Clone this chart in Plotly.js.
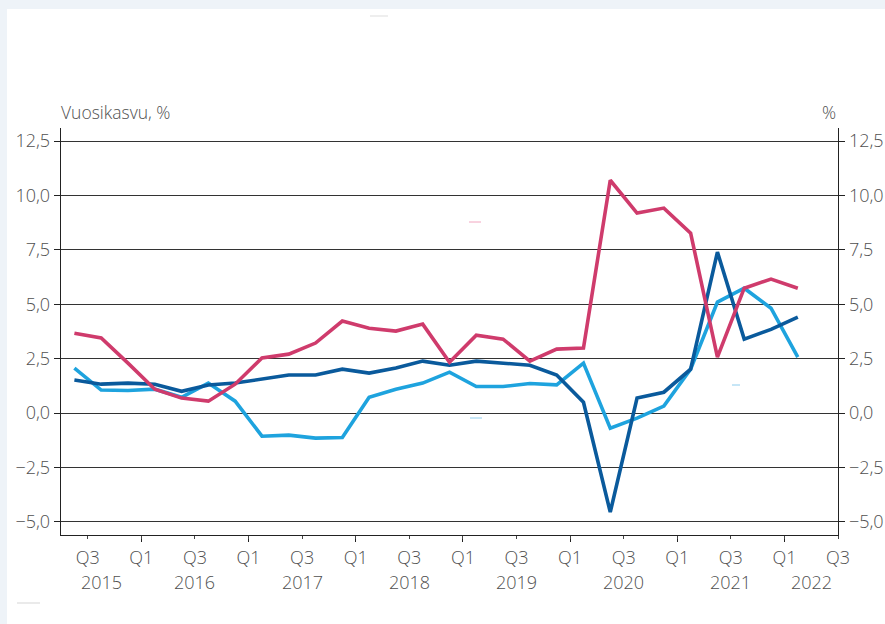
<!DOCTYPE html>
<html>
<head>
<meta charset="utf-8">
<script src="https://cdn.plot.ly/plotly-3.0.1.min.js"></script>
<style>
  html, body { margin: 0; padding: 0; background: #eef3f8; width: 885px; height: 624px; overflow: hidden; }
  #chart { position: absolute; left: 7px; top: 9px; width: 878px; height: 615px; background: #fff; }
</style>
</head>
<body>
<div id="chart"></div>
<script>
// Quarters 2015Q2 .. 2022Q1 (index 0..27)
const quarters = ["2015Q2","2015Q3","2015Q4","2016Q1","2016Q2","2016Q3","2016Q4","2017Q1","2017Q2","2017Q3","2017Q4","2018Q1","2018Q2","2018Q3","2018Q4","2019Q1","2019Q2","2019Q3","2019Q4","2020Q1","2020Q2","2020Q3","2020Q4","2021Q1","2021Q2","2021Q3","2021Q4","2022Q1"];

const darkBlue = [1.52,1.33,1.38,1.33,1.00,1.29,1.38,1.56,1.75,1.75,2.02,1.84,2.07,2.39,2.20,2.39,2.30,2.20,1.75,0.50,-4.55,0.69,0.96,2.02,7.40,3.40,3.85,4.41];
const lightBlue = [2.07,1.06,1.04,1.10,0.73,1.38,0.55,-1.06,-1.01,-1.15,-1.12,0.73,1.10,1.38,1.88,1.22,1.22,1.36,1.30,2.30,-0.69,-0.23,0.32,2.02,5.10,5.74,4.82,2.57];
const pink = [3.67,3.45,2.30,1.10,0.69,0.55,1.33,2.53,2.71,3.22,4.23,3.90,3.77,4.09,2.34,3.58,3.40,2.39,2.94,2.99,10.70,9.19,9.42,8.27,2.57,5.74,6.16,5.74];

const qTickVals = [0.5,2.5,4.5,6.5,8.5,10.5,12.5,14.5,16.5,18.5,20.5,22.5,24.5,26.5,28.5];
const qTickText = ["Q3","Q1","Q3","Q1","Q3","Q1","Q3","Q1","Q3","Q1","Q3","Q1","Q3","Q1","Q3"];
const q1TickVals = [2.5,6.5,10.5,14.5,18.5,22.5,26.5];
const years = ["2015","2016","2017","2018","2019","2020","2021","2022"];
const yearPos = [1.0,4.5,8.5,12.5,16.5,20.5,24.5,27.5];
const yTicks = [-5,-2.5,0,2.5,5,7.5,10,12.5];

const xIdx = quarters.map((q,i)=>i);
const font = {family: "'Open Sans', 'Noto Sans', sans-serif", size: 18, color: "#505050", weight: 300};

function line(y, color, name) {
  return {x: xIdx, y: y, type: 'scatter', mode: 'lines', name: name,
          line: {color: color, width: 3.6}, hoverinfo: 'skip'};
}

const traces = [
  line(lightBlue, '#1ea3de', 'sarja 2'),
  line(darkBlue, '#0a5a9c', 'sarja 1'),
  line(pink, '#cf3b6c', 'sarja 3'),
  // carrier for the right-hand axis (drawn invisibly)
  {x: xIdx, y: darkBlue, yaxis: 'y2', type: 'scatter', mode: 'lines', opacity: 0,
   line: {width: 0}, hoverinfo: 'skip', showlegend: false}
];

const yaxisCommon = {
  range: [-5.6, 13.1], tickvals: yTicks, tickformat: '.1f',
  ticks: 'outside', ticklen: 6, tickcolor: '#222', tickwidth: 1,
  showline: true, linecolor: '#222', linewidth: 1.3,
  tickfont: font, zeroline: false, fixedrange: true
};

const annotations = years.map((t,i)=>({
  text: t, x: yearPos[i], xref: 'x', y: -0.115, yref: 'paper',
  showarrow: false, font: font, xanchor: 'center', yanchor: 'middle'
}));
annotations.push({text: 'Vuosikasvu, %', xref: 'paper', yref: 'paper', x: -0.002, y: 1.039,
  xanchor: 'left', yanchor: 'middle', showarrow: false, font: {family: font.family, size: 17.5, color: '#505050', weight: 300}});
annotations.push({text: '%', xref: 'paper', yref: 'paper', x: 1.0, y: 1.039,
  xanchor: 'right', yanchor: 'middle', showarrow: false, font: {family: font.family, size: 17.5, color: '#505050', weight: 300}});

// tiny leftover marks visible in the reference
const tiny = (x0,x1,y,c)=>({type:'line', xref:'paper', yref:'paper', x0:x0, x1:x1, y0:y, y1:y, line:{color:c, width:1}});
const W = 777, H = 407;
const px = v => (v - 61) / W, py = v => (535 - v) / H;
const shapes = [
  tiny(px(370), px(388), py(16), '#dddddd'),
  tiny(px(469), px(481), py(222), '#f2a6c0'),
  tiny(px(470), px(482), py(418), '#8ecdee'),
  tiny(px(732), px(740), py(385), '#8ecdee'),
  tiny(px(17), px(40), py(603), '#d5d5d5')
];

const layout = {
  width: 878, height: 615,
  margin: {l: 54, r: 47, t: 119, b: 89, pad: 0},
  paper_bgcolor: '#ffffff', plot_bgcolor: '#ffffff',
  showlegend: false,
  separators: ',.',
  font: font,
  xaxis: {
    range: [-0.5, 28.5], tickvals: qTickVals, ticktext: qTickText,
    ticks: 'outside', ticklen: 3, tickcolor: '#444', tickwidth: 1,
    minor: {tickvals: q1TickVals, ticks: 'outside', ticklen: 6, tickcolor: '#222', tickwidth: 1, showgrid: false},
    showline: true, linecolor: '#222', linewidth: 1.3, ticklabelstandoff: 3,
    showgrid: false, zeroline: false, tickfont: font, fixedrange: true, tickangle: 0
  },
  yaxis: Object.assign({}, yaxisCommon, {showgrid: true, gridcolor: '#333', gridwidth: 1, side: 'left'}),
  yaxis2: Object.assign({}, yaxisCommon, {overlaying: 'y', side: 'right', showgrid: false, anchor: 'x'}),
  annotations: annotations,
  shapes: shapes
};

Plotly.newPlot('chart', traces, layout, {displayModeBar: false, staticPlot: true});
</script>
</body>
</html>
